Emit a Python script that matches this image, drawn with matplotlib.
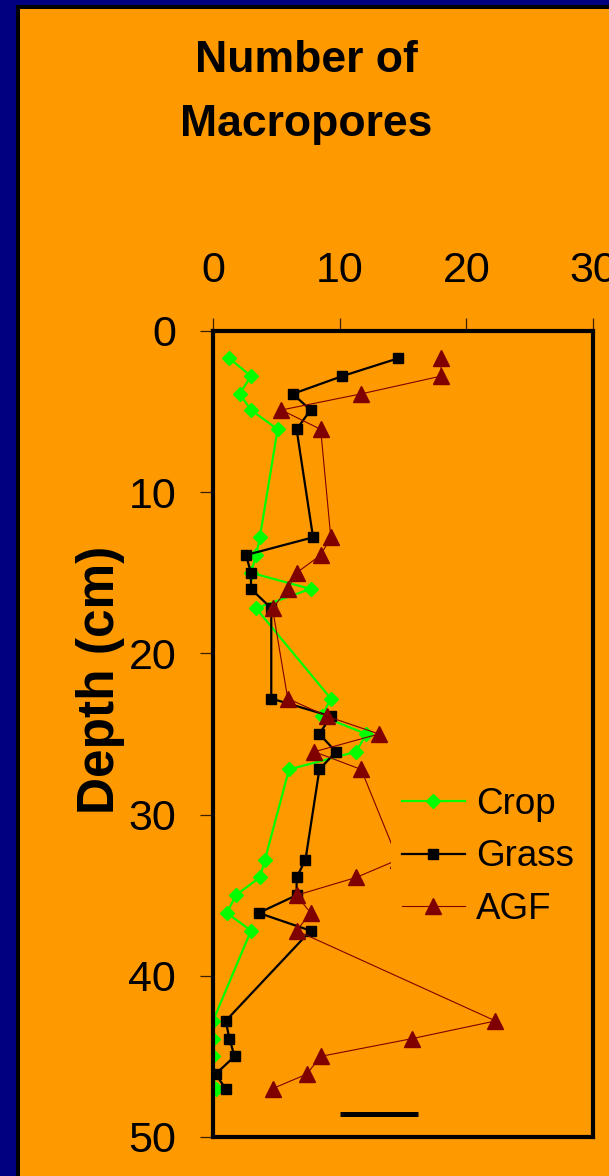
import matplotlib
matplotlib.use("Agg")
import matplotlib.pyplot as plt
from matplotlib.patches import Rectangle

# Sampling depths (cm) shared by all three land uses
depth = [1.7, 2.8, 3.9, 4.9, 6.1, 12.8, 13.9, 15.0, 16.0, 17.2,
         22.8, 23.9, 25.0, 26.1, 27.2, 32.8, 33.9, 35.0, 36.1, 37.2,
         42.8, 43.9, 45.0, 46.1, 47.0]

# Number of macropores per land use
crop = [1.3, 3.0, 2.1, 3.0, 5.1, 3.7, 3.4, 3.0, 7.7, 3.4,
        9.3, 8.6, 12.1, 11.3, 6.0, 4.1, 3.7, 1.8, 1.1, 3.0,
        0.0, 0.0, 0.0, 0.0, 0.2]
grass = [14.6, 10.2, 6.3, 7.7, 6.6, 7.9, 2.6, 3.0, 3.0, 4.6,
         4.6, 9.3, 8.4, 9.7, 8.4, 7.3, 6.6, 6.6, 3.6, 7.7,
         1.0, 1.3, 1.7, 0.2, 1.0]
agf = [18.0, 18.0, 11.7, 5.4, 8.5, 9.3, 8.5, 6.6, 5.9, 4.7,
       5.9, 9.0, 13.1, 8.0, 11.7, 14.6, 11.3, 6.6, 7.7, 6.6,
       22.3, 15.7, 8.5, 7.4, 4.7]

# Horizontal reference bar near the bottom of the profile
bar_x = [10.0, 16.2]
bar_depth = 48.6

x_ticks = [0, 10, 20, 30]
y_ticks = [0, 10, 20, 30, 40, 50]

W, H = 609, 1176
fig = plt.figure(figsize=(W / 100, H / 100), dpi=100)
fig.patch.set_facecolor("#000080")

# Orange slide panel with a thin black edge
fig.patches.append(Rectangle((16 / W, 0), (W - 16) / W, (H - 5) / H,
                             transform=fig.transFigure, facecolor="black",
                             edgecolor="none", zorder=-2))
fig.patches.append(Rectangle((20 / W, 0), (W - 20) / W, (H - 9) / H,
                             transform=fig.transFigure, facecolor="#FF9900",
                             edgecolor="none", zorder=-1))

left, right, top, bottom = 213, 593, 331, 1137
ax = fig.add_axes([left / W, (H - bottom) / H, (right - left) / W, (bottom - top) / H])
ax.set_facecolor("#FF9900")

ax.plot(crop, depth, color="#00FF00", lw=1.6, marker="D", ms=7.5,
        mfc="#00FF00", mec="#00FF00", label="Crop", zorder=3)
ax.plot(grass, depth, color="black", lw=1.6, marker="s", ms=7.2,
        mfc="black", mec="black", label="Grass", zorder=3)
ax.plot(agf, depth, color="#800000", lw=0.8, marker="^", ms=11.5,
        mfc="#800000", mec="#800000", label="AGF", zorder=3)

ax.plot(bar_x, [bar_depth, bar_depth], color="black", lw=3.6,
        solid_capstyle="butt", zorder=3)

ax.set_xlim(0, 30)
ax.set_ylim(50, 0)
ax.set_xticks(x_ticks)
ax.set_yticks(y_ticks)
ax.xaxis.tick_top()
ax.tick_params(axis="both", which="both", direction="out", length=9.5,
               width=0.9, color="#3a2000", labelsize=31)
ax.tick_params(axis="x", pad=19, top=True, bottom=False)
ax.tick_params(axis="y", pad=17, left=True, right=False)
for lab in ax.get_xticklabels() + ax.get_yticklabels():
    lab.set_fontfamily("Liberation Sans")
for sp in ax.spines.values():
    sp.set_linewidth(3.0)
    sp.set_color("black")
    sp.set_zorder(6)

ax.set_ylabel("Depth (cm)", fontsize=37, fontweight="bold",
              family="Liberation Sans")
ax.yaxis.set_label_coords((125 - left) / (right - left), (bottom - 680) / (bottom - top))

leg = ax.legend(loc="center left", bbox_to_anchor=((391 - left) / (right - left),
                                                   (bottom - 857) / (bottom - top)),
                borderaxespad=0, frameon=True, facecolor="#FF9900",
                edgecolor="none", framealpha=1, fancybox=False,
                prop={"family": "Liberation Sans", "size": 26.5},
                handlelength=1.7, handletextpad=0.3, labelspacing=0.48,
                borderpad=0.3, numpoints=1)

fig.text(306 / W, (H - 136) / H, "Number of\nMacropores", ha="center",
         va="baseline", fontsize=32, fontweight="bold", linespacing=1.72,
         family="Liberation Sans")

fig.savefig("out.png", dpi=100, facecolor=fig.get_facecolor())
